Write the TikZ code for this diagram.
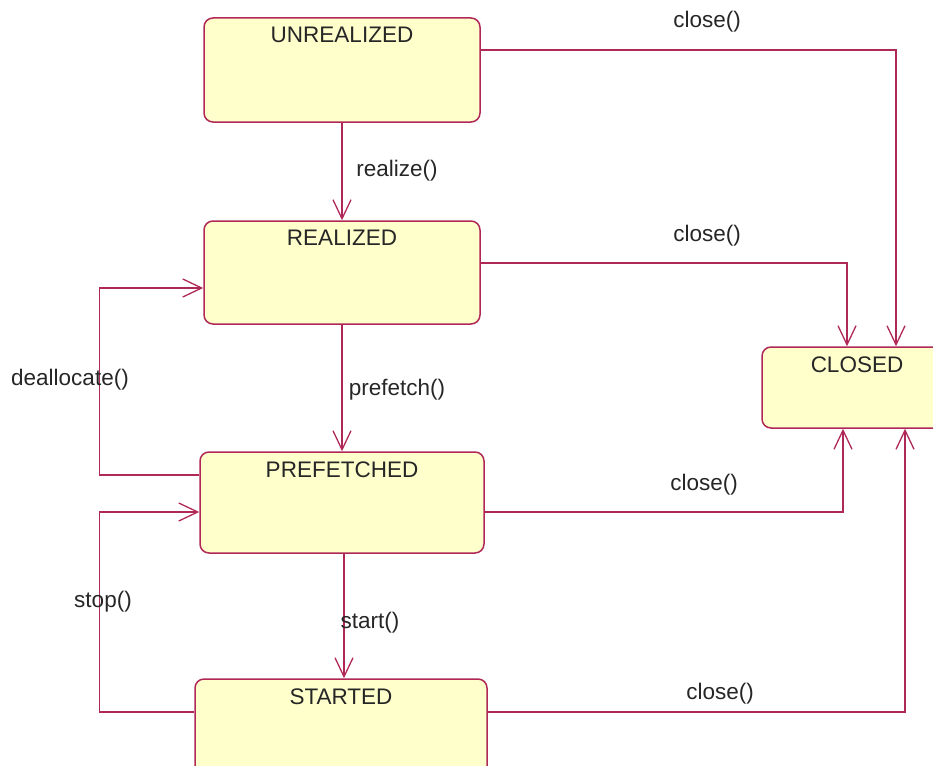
\documentclass[tikz,border=0pt]{standalone}
\usepackage{fontspec}
\setmainfont{Liberation Sans}
\usepackage{tikz}
\usetikzlibrary{arrows.meta}
\definecolor{stateline}{RGB}{176,40,88}
\definecolor{statefill}{RGB}{255,255,204}

\begin{document}
\begin{tikzpicture}[
    x=1pt,y=-1pt,
    font=\fontsize{22.5}{26}\selectfont,
    state/.style={draw=stateline,fill=statefill,line width=1.5pt,rounded corners=9pt,
      inner sep=0pt,anchor=center},
    trans/.style={draw=stateline,line width=1.5pt,
      -{Straight Barb[length=19pt,width=18pt,line width=1.3pt]}},
    lbl/.style={inner sep=0pt,text=black!85}
    ]
    \useasboundingbox (0,0) rectangle (933,765);
    \clip (0,0) rectangle (933,765);
    % states
    \node[state,minimum width=276pt,minimum height=104pt,
      label={[lbl,below=10pt]north:UNREALIZED}] (unrealized) at (342,70) {};
    \node[state,minimum width=276pt,minimum height=103pt,
      label={[lbl,below=10pt]north:REALIZED}] (realized) at (342,272.5) {};
    \node[state,minimum width=284pt,minimum height=101pt,
      label={[lbl,below=10pt]north:PREFETCHED}] (prefetched) at (342,502.5) {};
    \node[state,minimum width=292pt,minimum height=100pt,
      label={[lbl,below=10pt]north:STARTED}] (started) at (341,729) {};
    \node[state,minimum width=190pt,minimum height=81pt,
      label={[lbl,below=10pt]north:CLOSED}] (closed) at (857,387.5) {};
    % transitions
    \draw[trans] (unrealized.south) -- (realized.north);
    \draw[trans] (realized.south) -- (prefetched.north);
    \draw[trans] ([xshift=2pt]prefetched.south) -- ([xshift=3pt]started.north);
    \draw[trans] ([yshift=20pt]unrealized.east) -| ([xshift=39pt]closed.north);
    \draw[trans] ([yshift=9.5pt]realized.east) -| ([xshift=-10pt]closed.north);
    \draw[trans] ([yshift=-9.5pt]prefetched.east) -| ([xshift=-14pt]closed.south);
    \draw[trans] ([yshift=17pt]started.east) -| ([xshift=48pt]closed.south);
    \draw[trans] ([yshift=27.5pt]prefetched.west) -- ++(-100,0)
      |- ([yshift=-15.5pt]realized.west);
    \draw[trans] ([yshift=17pt]started.west) -- ++(-95,0)
      |- ([yshift=-9.5pt]prefetched.west);
    % labels
    \node[lbl] (l1) at (707,22) {close()};
    \node[lbl] (l2) at (397,171) {realize()};
    \node[lbl] (l3) at (707,236) {close()};
    \node[lbl] (l4) at (397,390) {prefetch()};
    \node[lbl] (l5) at (70,380) {deallocate()};
    \node[lbl] (l6) at (704,485) {close()};
    \node[lbl] (l7) at (370,623) {start()};
    \node[lbl] (l8) at (103,602) {stop()};
    \node[lbl] (l9) at (720,694) {close()};
\end{tikzpicture}
\end{document}
